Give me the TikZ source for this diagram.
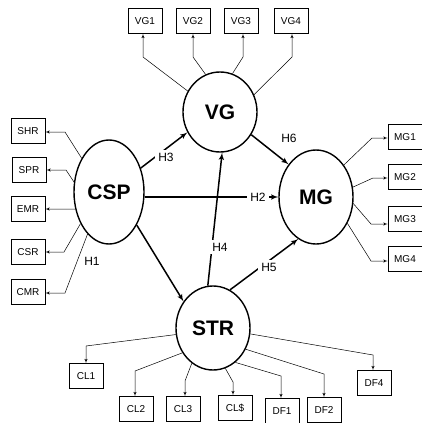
\documentclass[tikz,border=0pt]{standalone}
\usepackage{fontspec}
\setmainfont{Liberation Sans}
\usetikzlibrary{shapes.geometric, arrows}

\begin{document}
\begin{tikzpicture}[x=1pt, y=-1pt]
  \tikzstyle{factor} = [ellipse, draw, line width=1.4pt, inner sep=0pt,
      font=\fontsize{21}{24}\selectfont\bfseries]
  \tikzstyle{item} = [rectangle, draw, line width=0.6pt, inner sep=0pt,
      minimum width=34pt, minimum height=25pt, font=\fontsize{10}{12}\selectfont]
  \tikzstyle{link} = [draw, line width=0.5pt, -latex']
  \tikzstyle{hyp} = [draw, line width=1.5pt, -latex']
  \tikzstyle{hlabel} = [fill=white, inner sep=3pt, font=\fontsize{12}{14}\selectfont]

  \useasboundingbox (0,0) rectangle (422,423);

      % Place factors
      \node [factor, minimum width=74pt, minimum height=80pt] (vg) at (220,112) {VG};
      \node [factor, minimum width=70pt, minimum height=104pt] (csp) at (109,192) {CSP};
      \node [factor, minimum width=74pt, minimum height=94pt] (mg) at (316,197) {MG};
      \node [factor, minimum width=74pt, minimum height=84pt] (str) at (213,328) {STR};

      % Place items
      \node [item] (vg1) at (145,21) {VG1};
      \node [item] (vg2) at (193,21) {VG2};
      \node [item] (vg3) at (241,21) {VG3};
      \node [item] (vg4) at (291,21) {VG4};
      \node [item] (shr) at (28,131) {SHR};
      \node [item] (spr) at (29,170) {SPR};
      \node [item] (emr) at (28,209) {EMR};
      \node [item] (csr) at (28,252) {CSR};
      \node [item] (cmr) at (28,292) {CMR};
      \node [item] (mg1) at (405,137) {MG1};
      \node [item] (mg2) at (405,177) {MG2};
      \node [item] (mg3) at (405,219) {MG3};
      \node [item] (mg4) at (405,259) {MG4};
      \node [item] (cl1) at (86,376) {CL1};
      \node [item] (cl2) at (136,409) {CL2};
      \node [item] (cl3) at (183,409) {CL3};
      \node [item] (cl4) at (235,408) {CL\$};
      \node [item] (df1) at (282,411) {DF1};
      \node [item] (df2) at (324,410) {DF2};
      \node [item] (df4) at (374,383) {DF4};

  %paths to items
      \path [link] (vg.147) -- (143,57) -- (vg1.south -| 143,57);
      \path [link] (vg.111) -- (193,57) -- (vg2.south);
      \path [link] (vg.72) -- (243,57) -- (vg3.south -| 243,57);
      \path [link] (vg.27) -- (292,57) -- (vg4.south -| 292,57);

      \path [link] (csp.129) -- (65,132) -- (shr.east |- 65,132);
      \path [link] (csp.164) -- (66,170) -- (spr.east);
      \path [link] (csp.207) -- (emr.east);
      \path [link] (csp.228) -- (64,252) -- (csr.east);
      \path [link] (csp.243) -- (65,293) -- (cmr.east |- 65,293);

      \path [link] (mg.49) -- (372,138) -- (mg1.west |- 372,138);
      \path [link] (mg.15) -- (373,178) -- (mg2.west |- 373,178);
      \path [link] (mg.350) -- (371,224) -- (mg3.west |- 371,224);
      \path [link] (mg.320) -- (371,261) -- (mg4.west |- 371,261);

      \path [link] (str.190) -- (86,346) -- (cl1.north);
      \path [link] (str.219) -- (135,371) -- (cl2.north -| 135,371);
      \path [link] (str.239) -- (185,381) -- (cl3.north -| 185,381);
      \path [link] (str.287) -- (233,382) -- (cl4.north -| 233,382);
      \path [link] (str.303) -- (281,376) -- (df1.north -| 281,376);
      \path [link] (str.327) -- (324,374) -- (df2.north);
      \path [link] (str.351) -- (373,355) -- (df4.north -| 373,355);

  %hypotheses
      \path [hyp] (csp.310) -- (str.138);
      \path [hyp] (csp.37) -- (vg.212);
      \path [hyp] (mg.west -| csp.east) -- (mg.west);
      \path [hyp] (str.97) -- (vg.273);
      \path [hyp] (str.66) -- (mg.247);
      \path [hyp] (vg.324) -- (mg.130);

      \node [hlabel, fill=none] (h1) at (92,261) {H1};
      \node [hlabel] (h2) at (258,197) {H2};
      \node [hlabel] (h3) at (166,157) {H3};
      \node [hlabel] (h4) at (220,247) {H4};
      \node [hlabel] (h5) at (269,267) {H5};
      \node [hlabel, fill=none] (h6) at (289,138) {H6};

  \end{tikzpicture}
\end{document}
